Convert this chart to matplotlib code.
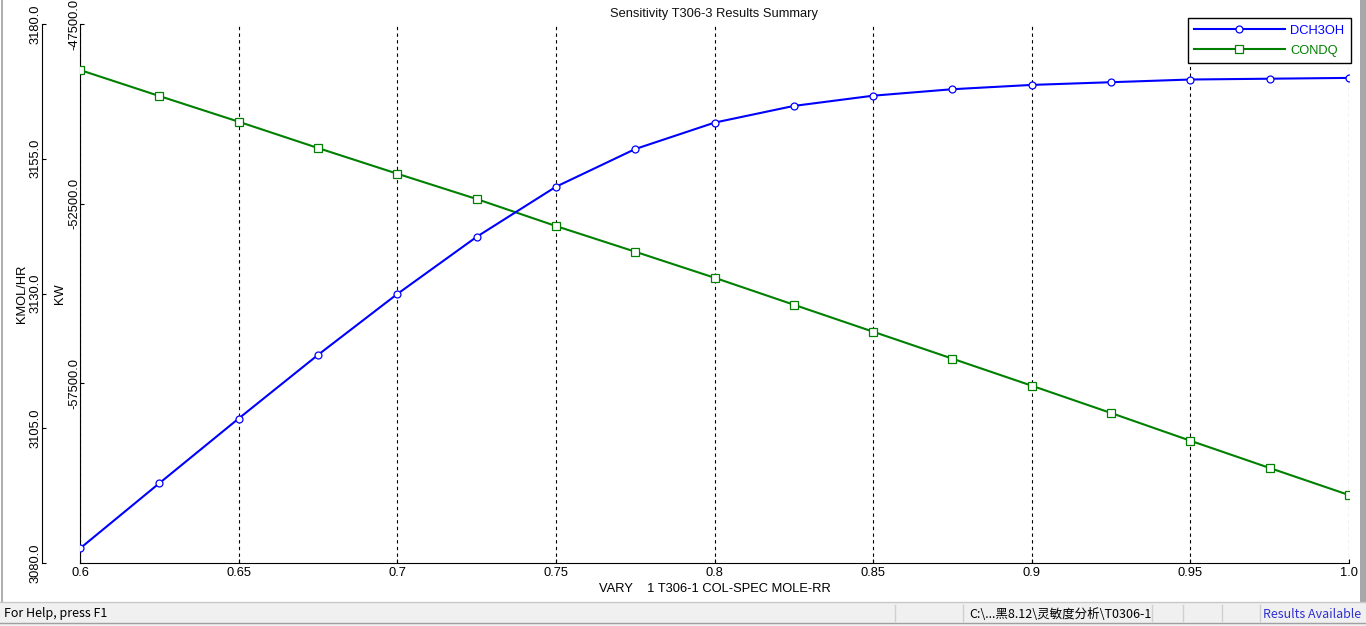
import matplotlib
matplotlib.use('Agg')
import matplotlib.pyplot as plt
from matplotlib.patches import Rectangle
from matplotlib.lines import Line2D

plt.rcParams['font.family'] = ['Liberation Sans', 'DejaVu Sans']

# variable balayee : VARY 1 T306-1 COL-SPEC MOLE-RR
rr = [0.6, 0.625, 0.65, 0.675, 0.7, 0.725, 0.75, 0.775, 0.8,
      0.825, 0.85, 0.875, 0.9, 0.925, 0.95, 0.975, 1.0]

# DCH3OH en KMOL/HR
dch3oh = [3082.7, 3094.8, 3106.8, 3118.6, 3129.9, 3140.5, 3149.8, 3156.8, 3161.7,
          3164.8, 3166.7, 3167.9, 3168.7, 3169.2, 3169.7, 3169.85, 3170.0]

# CONDQ en KW
condq = [-48780, -49504, -50219, -50951, -51666, -52370, -53122, -53837, -54561,
         -55312, -56063, -56814, -57566, -58326, -59097, -59856, -60608]

x_ticks = [0.6, 0.65, 0.7, 0.75, 0.8, 0.85, 0.9, 0.95, 1.0]
x_labels = ['0.6', '0.65', '0.7', '0.75', '0.8', '0.85', '0.9', '0.95', '1.0']
kw_ticks = [-47500, -52500, -57500]
kmol_ticks = [3080, 3105, 3130, 3155, 3180]

W, H = 1366, 626
fig = plt.figure(figsize=(W/100, H/100), dpi=100)
fig.patch.set_facecolor('white')

x0, x1, y0, y1 = 80, 1349, 24, 563
ax = fig.add_axes([x0/W, 1-y1/H, (x1-x0)/W, (y1-y0)/H])
ax2 = ax.twinx()

fs = 9.3

# axe KW (courbe verte)
l2, = ax.plot(rr, condq, '-', color='#008000', lw=1.5, marker='s', ms=5.5,
              mfc='white', mec='#008000', mew=0.9, label='CONDQ', zorder=3)
ax.set_xlim(0.6, 1.0)
ax.set_ylim(-62500, -47500)
ax.set_yticks(kw_ticks)
ax.set_yticklabels(['%.1f' % v for v in kw_ticks])
ax.set_xticks(x_ticks)
ax.set_xticklabels(x_labels)
ax.grid(axis='x', color='black', linestyle=(0, (3, 3)), lw=0.8)
ax.grid(axis='y', visible=False)
for s in ['top', 'right']:
    ax.spines[s].set_visible(False)
ax.tick_params(axis='both', direction='in', length=3, width=0.8, labelsize=fs, colors='black')
ax.tick_params(axis='y', pad=0, labelrotation=90)
ax.tick_params(axis='x', pad=3)
for t in ax.get_yticklabels():
    t.set_va('center')
ax.set_ylabel('KW', fontsize=fs)
ax.yaxis.set_label_coords(-14/(x1-x0), 0.5)
ax.set_xlabel('VARY    1 T306-1 COL-SPEC MOLE-RR', fontsize=fs, labelpad=3)
ax.set_title('Sensitivity T306-3 Results Summary', fontsize=fs, pad=5, color='#101010')

# axe KMOL/HR (courbe bleue), deplace a gauche
l1, = ax2.plot(rr, dch3oh, '-', color='#0000ff', lw=1.5, marker='o', ms=5,
               mfc='white', mec='#0000ff', mew=0.9, label='DCH3OH', zorder=3)
ax2.set_ylim(3080, 3180)
ax2.yaxis.set_ticks_position('left')
ax2.yaxis.set_label_position('left')
ax2.spines['left'].set_position(('axes', -(x0-42)/(x1-x0)))
for s in ['top', 'right', 'bottom']:
    ax2.spines[s].set_visible(False)
ax2.spines['left'].set_visible(True)
ax2.set_yticks(kmol_ticks)
ax2.set_yticklabels(['%.1f' % v for v in kmol_ticks])
ax2.tick_params(axis='y', direction='in', length=3, width=0.8, labelsize=fs, pad=0, labelrotation=90)
for t in ax2.get_yticklabels():
    t.set_va('center')
ax2.set_ylabel('KMOL/HR', fontsize=fs)
ax2.yaxis.set_label_coords(-(x0-28)/(x1-x0), 0.5)

leg = ax2.legend(handles=[l1, l2], loc='upper right', bbox_to_anchor=(1351/W, 1-18/H),
                 bbox_transform=fig.transFigure, borderaxespad=0, fancybox=False,
                 edgecolor='black', framealpha=1, fontsize=fs, handlelength=7.0,
                 handletextpad=0.45, labelspacing=0.65, borderpad=0.5, numpoints=1)
leg.get_frame().set_linewidth(1.0)
for txt, c in zip(leg.get_texts(), ['#0000ff', '#008000']):
    txt.set_color(c)
leg.set_zorder(10)

# bord de fenetre et barre d'etat
fig.add_artist(Rectangle((1360/W, 1-603/H), 6/W, 603/H, transform=fig.transFigure,
                         facecolor='#a8a8a8', edgecolor='none'))
fig.add_artist(Line2D([2/W, 2/W], [1-602/H, 1], transform=fig.transFigure, color='#a0a0a0', lw=1.2))
fig.add_artist(Rectangle((0, 0), 1, 1-602/H, transform=fig.transFigure,
                         facecolor='#f0f0f0', edgecolor='none'))
fig.add_artist(Line2D([0, 1], [1-602/H, 1-602/H], transform=fig.transFigure, color='#c8c8c8', lw=1))
fig.add_artist(Line2D([0, 1], [1-623/H, 1-623/H], transform=fig.transFigure, color='#a0a0a0', lw=1))
for sx in [895, 963, 1152, 1183, 1222, 1260]:
    fig.add_artist(Line2D([sx/W, sx/W], [1-621/H, 1-605/H], transform=fig.transFigure,
                          color='#d0d0d0', lw=1))
fig.text(4/W, 1-614/H, 'For Help, press F1', fontsize=9, va='center', ha='left',
         family=['Noto Sans CJK SC', 'DejaVu Sans'])
fig.text(969/W, 1-614/H, 'C:\\...黑8.12\\灵敏度分析\\T0306-1', fontsize=9, va='center', ha='left',
         family=['Noto Sans CJK SC', 'DejaVu Sans'])
fig.text(1263/W, 1-614/H, 'Results Available', fontsize=9, va='center', ha='left', color='#3030d0',
         family=['Noto Sans CJK SC', 'DejaVu Sans'])

fig.savefig('out.png', dpi=100)
